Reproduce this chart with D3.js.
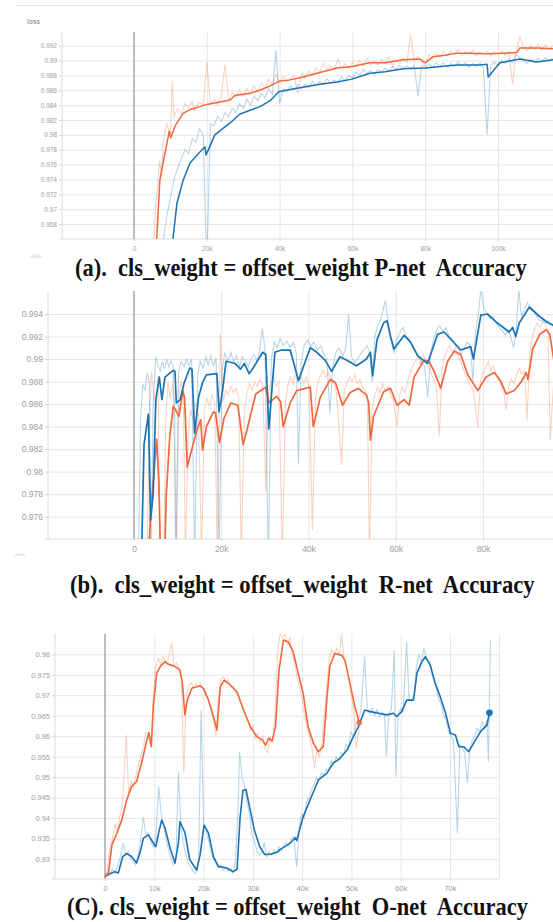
<!DOCTYPE html>
<html>
<head>
<meta charset="utf-8">
<script src="https://cdn.jsdelivr.net/npm/d3@7"></script>
<style>
  body { margin: 0; background: #fff; }
  svg { display: block; font-family: Roboto, "Noto Sans", sans-serif; }
  .grid line { stroke: #e7e7e7; }
  .grid path { display: none; }
  .axis path { display: none; }
  .axis line { stroke: #d4d4d4; }
  .axis text { fill: #9d9d9d; }
  .caption { font-family: "Liberation Serif", "Times New Roman", serif; font-weight: bold; fill: #111; white-space: pre; }
</style>
</head>
<body>
<div id="chart"></div>
<script>
// steps are in thousands, values are accuracy

// (a) P-net
var pnetXTicks = [0, 20, 40, 60, 80, 100];
var pnetYTicks = [0.968, 0.97, 0.972, 0.974, 0.976, 0.978, 0.98, 0.982, 0.984, 0.986, 0.988, 0.99, 0.992];
var pnetOrangeRaw = [[5,0.962],[6,0.9705],[7,0.9765],[7.6,0.9745],[8,0.979],[9,0.9815],[10,0.98],[10.5,0.9872],[11,0.9825],[12,0.9835],[13,0.9828],[14,0.9842],[15,0.9836],[16,0.9845],[16.6,0.9832],[17,0.9838],[18,0.9844],[19,0.984],[20,0.9898],[21,0.9842],[22,0.9848],[23,0.984],[24,0.9852],[25,0.9895],[26,0.9846],[27,0.9857],[28,0.985],[29,0.986],[30,0.9852],[31,0.9862],[32,0.9855],[33,0.9866],[34,0.9858],[35,0.987],[36,0.9862],[37,0.9875],[38,0.9868],[39,0.9882],[40,0.987],[41,0.9878],[42,0.9872],[43,0.9876],[44,0.988],[45,0.9855],[46,0.9882],[47,0.9876],[48,0.9886],[49,0.988],[50,0.989],[51,0.9884],[52,0.9896],[53,0.9887],[54,0.9893],[55,0.9888],[56,0.9902],[57,0.989],[58,0.9896],[59,0.9889],[60,0.9898],[61,0.9891],[62,0.99],[63,0.9893],[64,0.9903],[65,0.9894],[66,0.99],[67,0.9893],[68,0.9901],[69,0.9896],[70,0.9905],[71,0.9893],[72,0.99],[73,0.9896],[74,0.9904],[75,0.9898],[76,0.9935],[77,0.9899],[78,0.9906],[79,0.9899],[80,0.9892],[81,0.9908],[82,0.9903],[83,0.991],[84,0.9904],[85,0.9912],[86,0.9906],[87,0.9913],[88,0.9908],[89,0.9915],[90,0.9907],[91,0.9912],[92,0.9909],[93,0.9914],[94,0.9907],[95,0.9912],[96,0.9908],[97,0.9913],[98,0.9906],[99,0.9912],[100,0.9909],[101,0.9913],[102,0.9907],[103,0.9912],[104,0.9868],[105,0.9913],[106,0.9932],[107,0.9918],[108,0.9913],[109,0.992],[110,0.9915],[111,0.9922],[112,0.9914],[113,0.9921],[114,0.9915],[115,0.992]];
var pnetBlueRaw = [[8,0.9655],[9,0.969],[10,0.9715],[11,0.974],[12,0.9755],[13,0.9768],[14,0.978],[15,0.9775],[16,0.9795],[17,0.979],[18,0.9808],[19,0.98],[20,0.962],[21,0.9815],[22,0.9812],[23,0.9825],[24,0.9818],[25,0.983],[26,0.9824],[27,0.9836],[28,0.983],[29,0.9842],[30,0.9836],[31,0.9848],[32,0.984],[33,0.9852],[34,0.9846],[35,0.9856],[36,0.985],[37,0.9862],[38,0.9855],[39,0.9914],[40,0.9842],[41,0.9862],[42,0.9858],[43,0.9866],[44,0.986],[45,0.9868],[46,0.9862],[47,0.9868],[48,0.9864],[49,0.9872],[50,0.9866],[51,0.9872],[52,0.9868],[53,0.9876],[54,0.987],[55,0.9874],[56,0.987],[57,0.9878],[58,0.9872],[59,0.988],[60,0.9876],[61,0.9884],[62,0.988],[63,0.9888],[64,0.9883],[65,0.9887],[66,0.9882],[67,0.9888],[68,0.9884],[69,0.989],[70,0.9886],[71,0.9892],[72,0.9888],[73,0.9894],[74,0.9889],[75,0.9893],[76,0.9889],[77,0.9894],[78,0.9852],[79,0.9893],[80,0.9889],[81,0.9896],[82,0.9891],[83,0.9897],[84,0.9892],[85,0.9897],[86,0.9891],[87,0.9896],[88,0.9892],[89,0.9898],[90,0.9893],[91,0.9897],[92,0.9891],[93,0.9896],[94,0.9892],[95,0.9897],[96,0.989],[97,0.98],[98,0.9893],[99,0.9898],[100,0.9894],[101,0.99],[102,0.9896],[103,0.9902],[104,0.9897],[105,0.9908],[106,0.9904],[107,0.99],[108,0.9896],[109,0.9902],[110,0.9897],[111,0.9903],[112,0.9898],[113,0.9904],[114,0.9899],[115,0.9903]];
var pnetOrangeSmooth = [[5.8,0.962],[7.1,0.9739],[8.5,0.9775],[9.7,0.9805],[10.1,0.9796],[11.3,0.9812],[13.5,0.9829],[15.4,0.9834],[18.1,0.9838],[20,0.9841],[22.2,0.9843],[26.4,0.9847],[27.7,0.9853],[29.1,0.9854],[31.9,0.9856],[34.6,0.986],[37.4,0.9866],[39.8,0.9872],[42.9,0.9874],[46.4,0.9878],[51.1,0.9884],[55.8,0.989],[59.9,0.9892],[64.8,0.9897],[69,0.9897],[73.9,0.9901],[78.6,0.9902],[80,0.9897],[82.1,0.9905],[85.4,0.9907],[88.7,0.991],[92.3,0.991],[97,0.9909],[101.9,0.991],[105.2,0.9911],[106,0.9917],[110.7,0.9917],[115.1,0.9916]];
var pnetBlueSmooth = [[10.7,0.966],[11.8,0.9708],[13.5,0.9739],[15.4,0.9762],[18.1,0.9777],[19.5,0.9784],[19.8,0.9773],[22.2,0.98],[26.4,0.9816],[29.1,0.9828],[34.6,0.9838],[37.4,0.9846],[39.8,0.9858],[42.9,0.9861],[46.4,0.9864],[51.1,0.9868],[55.8,0.9871],[59.9,0.9875],[64.8,0.9883],[69,0.9885],[73.9,0.9889],[80,0.989],[88.7,0.9894],[95,0.9894],[97,0.9895],[97.3,0.9878],[100.5,0.9897],[106,0.9902],[110.7,0.9898],[115.1,0.9901]];

// (b) R-net
var rnetXTicks = [0, 20, 40, 60, 80];
var rnetYTicks = [0.976, 0.978, 0.98, 0.982, 0.984, 0.986, 0.988, 0.99, 0.992, 0.994];
var rnetBlueRaw = [[1,0.972],[1.5,0.9845],[2,0.9878],[2.5,0.9872],[3,0.9888],[3.5,0.988],[3.9,0.972],[4.4,0.986],[5,0.9902],[5.5,0.9895],[6,0.9889],[6.5,0.9898],[7,0.9891],[7.5,0.99],[8,0.9893],[8.5,0.9899],[9,0.9893],[9.6,0.972],[10.2,0.9888],[10.8,0.9898],[11.5,0.9893],[12,0.99],[12.6,0.9894],[13.2,0.99],[13.9,0.972],[14.6,0.9886],[15.2,0.9898],[15.8,0.9892],[16.5,0.9902],[17,0.9895],[17.6,0.9903],[18.2,0.9894],[18.8,0.9901],[19.5,0.972],[20.2,0.989],[20.8,0.9905],[21.5,0.9898],[22.2,0.9906],[22.8,0.9897],[23.5,0.9903],[24.2,0.9893],[24.8,0.9902],[25.5,0.9898],[26.2,0.9893],[26.8,0.99],[27.5,0.9904],[28.2,0.9898],[28.8,0.9908],[29.4,0.9927],[30,0.991],[30.8,0.972],[31.5,0.99],[32.2,0.9915],[32.8,0.991],[33.5,0.9918],[34.2,0.9912],[35,0.9916],[35.8,0.991],[36.5,0.9915],[37.2,0.9905],[37.7,0.9807],[38.3,0.9895],[39,0.9912],[39.8,0.9917],[40.5,0.9911],[41.2,0.9915],[42,0.9908],[42.8,0.9912],[43.5,0.9904],[44.2,0.99],[44.9,0.9852],[45.6,0.9895],[46.3,0.9906],[47,0.991],[47.8,0.9903],[48.5,0.9908],[49.2,0.994],[49.9,0.9901],[50.6,0.9897],[51.3,0.99],[52,0.9905],[52.7,0.9908],[53.4,0.9912],[54,0.9906],[54.6,0.988],[55.2,0.992],[55.9,0.993],[56.6,0.9935],[57.6,0.9952],[58.3,0.9932],[59,0.9915],[59.6,0.9905],[60.3,0.9918],[61,0.9924],[61.7,0.9928],[62.4,0.992],[63.1,0.9918],[63.8,0.991],[64.5,0.9908],[65.2,0.9902],[65.9,0.9897],[66.6,0.9893],[67.3,0.9866],[68,0.9905],[68.7,0.9918],[69.4,0.9926],[70.1,0.993],[70.8,0.9924],[71.5,0.9928],[72.2,0.992],[72.9,0.9918],[73.6,0.9912],[74.3,0.9909],[75,0.9904],[75.7,0.991],[76.4,0.9915],[77.1,0.9912],[77.7,0.988],[78.3,0.9925],[79,0.9942],[79.5,0.9962],[80.2,0.9945],[80.9,0.994],[81.6,0.9936],[82.3,0.9938],[83,0.9932],[83.7,0.9928],[84.4,0.9925],[85.1,0.9921],[85.8,0.9926],[86.5,0.9918],[87,0.991],[87.6,0.9925],[88.2,0.9962],[88.8,0.9938],[89.5,0.9945],[90.2,0.995],[90.9,0.9946],[91.6,0.9944],[92.3,0.9938],[93,0.9934],[93.7,0.9935],[94.4,0.9932],[95.1,0.9934],[95.8,0.993],[96.3,0.9928]];
var rnetOrangeRaw = [[3,0.972],[3.5,0.984],[4,0.9888],[4.5,0.987],[5,0.986],[5.5,0.9885],[6,0.972],[6.8,0.972],[7.3,0.985],[7.8,0.988],[8.3,0.9865],[8.8,0.9878],[9.3,0.986],[9.7,0.972],[10.3,0.9868],[10.8,0.988],[11.3,0.987],[11.8,0.972],[12.4,0.9835],[13,0.9855],[13.6,0.9845],[14.2,0.9862],[14.8,0.985],[15.5,0.972],[16.1,0.9855],[16.7,0.9865],[17.3,0.9858],[17.9,0.9868],[18.5,0.9862],[19.1,0.972],[19.8,0.9923],[20.4,0.9862],[21,0.9872],[21.6,0.9868],[22.2,0.9876],[22.8,0.987],[23.4,0.9874],[24,0.9866],[24.6,0.972],[25.3,0.9855],[25.9,0.987],[26.5,0.9878],[27.1,0.9872],[27.7,0.988],[28.3,0.9876],[28.9,0.9882],[29.5,0.9878],[30.2,0.9782],[30.8,0.987],[31.4,0.9878],[32,0.9884],[32.6,0.9876],[33.2,0.988],[34,0.972],[34.7,0.986],[35.3,0.9878],[35.9,0.9884],[36.5,0.9878],[37.1,0.9888],[37.7,0.988],[38.3,0.9885],[38.9,0.9878],[39.5,0.9884],[40.1,0.9876],[40.9,0.9748],[41.6,0.9865],[42.2,0.988],[42.8,0.9886],[43.4,0.989],[44,0.9884],[44.6,0.9888],[45.2,0.988],[45.8,0.9878],[46.4,0.987],[47.6,0.9806],[48.2,0.9872],[48.8,0.9878],[49.4,0.9884],[50,0.988],[50.6,0.9886],[51.2,0.9878],[51.8,0.9882],[52.4,0.9875],[53,0.9872],[53.5,0.9865],[54,0.972],[54.6,0.9858],[55.2,0.9868],[55.8,0.9875],[56.4,0.987],[57,0.9878],[57.6,0.9872],[58.2,0.9876],[58.8,0.9868],[59.4,0.9864],[60.3,0.984],[60.9,0.9868],[61.5,0.9875],[62.1,0.987],[62.7,0.988],[63.3,0.9888],[63.9,0.9894],[64.5,0.9898],[65.1,0.9903],[65.7,0.9895],[66.3,0.9904],[66.9,0.9898],[67.5,0.9893],[68.1,0.9888],[68.7,0.9882],[69.3,0.9876],[70,0.9832],[70.6,0.989],[71.2,0.9902],[71.8,0.9908],[72.4,0.9912],[73,0.9906],[73.6,0.991],[74.2,0.9904],[74.8,0.9898],[75.4,0.9892],[76,0.9886],[76.6,0.988],[77.2,0.9876],[77.8,0.9872],[78.8,0.9839],[79.4,0.988],[80,0.9888],[80.6,0.9892],[81.2,0.9898],[81.8,0.989],[82.4,0.9894],[83,0.9886],[83.6,0.9882],[84.2,0.9876],[84.8,0.987],[85.3,0.9855],[85.9,0.9876],[86.5,0.9882],[87.1,0.9878],[87.7,0.9886],[88.3,0.9892],[88.9,0.9886],[89.5,0.989],[90.1,0.9846],[90.7,0.9905],[91.3,0.992],[91.9,0.9928],[92.5,0.9932],[93.1,0.9928],[93.7,0.9934],[94.3,0.993],[94.9,0.9926],[95.4,0.9828],[96.2,0.988]];
var rnetBlueSmooth = [[1.7,0.972],[2.3,0.9824],[3.3,0.9851],[3.8,0.9757],[4.4,0.978],[5,0.9864],[5.8,0.9884],[6.4,0.9864],[7.1,0.9884],[9,0.989],[9.4,0.9889],[9.7,0.9861],[10.6,0.9864],[11.5,0.9879],[12.8,0.9892],[13.3,0.9891],[13.9,0.9834],[14.8,0.9866],[15.7,0.9879],[16.6,0.9886],[19,0.9887],[19.5,0.9853],[20.3,0.9872],[21.1,0.9898],[23.2,0.9896],[24.4,0.9891],[25.3,0.9896],[26.4,0.9887],[27.3,0.9892],[29.5,0.9906],[30.2,0.9904],[30.9,0.9838],[31.6,0.9872],[32.3,0.9906],[33.8,0.9908],[35.8,0.9908],[37.7,0.9881],[40.4,0.991],[41.9,0.9906],[43.8,0.9899],[45.3,0.9889],[47.2,0.9902],[48.8,0.9899],[51,0.9894],[53.3,0.99],[54.2,0.9906],[54.7,0.9885],[55.7,0.9917],[57.2,0.9932],[58,0.9934],[58.8,0.992],[59.6,0.9909],[61.9,0.9921],[63.4,0.9915],[65,0.9903],[67.3,0.9896],[69.6,0.9922],[71.1,0.9924],[73,0.9916],[74.9,0.9908],[77.2,0.9911],[77.8,0.99],[79.5,0.9939],[81,0.994],[83.3,0.9932],[86,0.9924],[86.8,0.9928],[87.5,0.992],[88.3,0.9932],[90.6,0.9946],[92.9,0.9938],[95,0.9932],[96.2,0.993]];
var rnetOrangeSmooth = [[3.3,0.972],[3.8,0.9762],[4.6,0.98],[5.2,0.9829],[5.7,0.979],[6.1,0.972],[7,0.972],[7.4,0.978],[8.2,0.9831],[9,0.9858],[9.5,0.9855],[10.3,0.9849],[11.2,0.9872],[11.6,0.9865],[12.2,0.9804],[13.2,0.9819],[14.5,0.9838],[15.3,0.9846],[15.7,0.9819],[16.6,0.984],[18.2,0.9853],[18.7,0.9852],[19.6,0.9826],[20.6,0.9847],[22.2,0.9861],[23.8,0.9859],[25,0.9824],[25.9,0.9837],[27.9,0.9869],[30.2,0.9875],[31,0.9861],[32.7,0.9867],[33.6,0.9862],[34.2,0.984],[35.8,0.9861],[37.3,0.9872],[40.4,0.9875],[41.1,0.984],[42.7,0.9866],[45,0.9882],[46.2,0.9879],[47.8,0.9859],[49.5,0.987],[51.4,0.9874],[53.3,0.9868],[53.8,0.9861],[54.2,0.9828],[54.9,0.9849],[57.2,0.9871],[58.8,0.9874],[60.3,0.9859],[61.9,0.9864],[63.1,0.9859],[64.2,0.9884],[66.5,0.9899],[67.6,0.9898],[68.8,0.9889],[70.3,0.9874],[71.9,0.9898],[73.4,0.9907],[74.9,0.9904],[76.5,0.9886],[78.8,0.9872],[80.7,0.9884],[82.6,0.9888],[84.1,0.988],[85.3,0.9869],[87.2,0.9872],[88.8,0.988],[89.9,0.9888],[90.3,0.9882],[91.4,0.9909],[93,0.9922],[94.5,0.9926],[95.3,0.9922],[96.2,0.99]];

// (C) O-net
var onetXTicks = [0, 10, 20, 30, 40, 50, 60, 70];
var onetYTicks = [0.93, 0.935, 0.94, 0.945, 0.95, 0.955, 0.96, 0.965, 0.97, 0.975, 0.98];
var onetOrangeRaw = [[0,0.9255],[0.5,0.9275],[1,0.933],[1.5,0.935],[2,0.9385],[2.5,0.9365],[3,0.9405],[3.5,0.943],[4.3,0.9603],[4.8,0.946],[5.3,0.949],[5.8,0.9475],[6.3,0.9505],[6.8,0.953],[7.3,0.9555],[7.8,0.9575],[8.3,0.961],[8.8,0.96],[9.3,0.957],[9.8,0.97],[10.3,0.977],[10.8,0.979],[11.3,0.9775],[11.8,0.9795],[12.3,0.978],[12.8,0.9788],[13.5,0.9828],[14,0.9772],[14.5,0.978],[15,0.9765],[15.5,0.974],[16,0.951],[16.5,0.97],[17,0.9722],[17.5,0.973],[18,0.9718],[18.5,0.9728],[19,0.972],[19.5,0.973],[20,0.9712],[20.5,0.97],[21,0.969],[21.5,0.9665],[22,0.964],[22.5,0.96],[23,0.969],[23.5,0.974],[24,0.9745],[24.5,0.973],[25,0.9738],[25.5,0.972],[26,0.9722],[26.5,0.9705],[27,0.97],[27.5,0.968],[28,0.967],[28.5,0.965],[29,0.964],[29.5,0.9615],[30,0.9625],[30.5,0.9595],[31,0.9608],[31.5,0.9585],[32,0.96],[32.5,0.957],[33,0.956],[33.5,0.96],[34,0.9585],[34.5,0.965],[35,0.98],[35.5,0.985],[36,0.984],[36.5,0.985],[37,0.9825],[37.5,0.984],[38,0.98],[38.5,0.978],[39,0.974],[39.5,0.972],[40,0.969],[40.5,0.965],[41,0.962],[41.5,0.96],[42,0.957],[42.5,0.952],[43,0.9565],[43.5,0.955],[44,0.9585],[44.5,0.965],[45,0.972],[45.5,0.979],[46,0.981],[46.5,0.98],[47,0.9815],[47.5,0.9795],[48,0.985],[48.5,0.979],[49,0.9765],[49.5,0.974],[50,0.97],[50.5,0.966],[51,0.957],[51.6,0.9625]];
var onetBlueRaw = [[0,0.9255],[0.5,0.9268],[1,0.9262],[1.5,0.9275],[2,0.9265],[2.5,0.928],[3,0.93],[3.7,0.9339],[4.2,0.931],[4.7,0.9318],[5.2,0.93],[5.7,0.9295],[6.2,0.9285],[6.7,0.931],[7.2,0.9345],[7.8,0.9403],[8.3,0.9355],[8.8,0.9365],[9.3,0.934],[9.8,0.933],[10.3,0.935],[10.9,0.9477],[11.4,0.941],[11.9,0.938],[12.4,0.935],[12.9,0.932],[13.4,0.93],[13.9,0.9285],[14.4,0.93],[14.9,0.9513],[15.4,0.938],[15.9,0.934],[16.4,0.931],[16.9,0.929],[17.4,0.928],[17.9,0.927],[18.4,0.9265],[19,0.93],[19.5,0.9664],[20,0.939],[20.5,0.937],[21,0.9345],[21.5,0.932],[22,0.93],[22.5,0.929],[23,0.9278],[23.5,0.9285],[24,0.9272],[24.5,0.928],[25,0.927],[25.5,0.9278],[26,0.9265],[26.5,0.93],[27,0.942],[27.3,0.9562],[27.8,0.95],[28.3,0.948],[28.8,0.944],[29.3,0.941],[29.8,0.936],[30.3,0.9345],[30.8,0.932],[31.3,0.931],[31.8,0.9315],[32.3,0.934],[32.8,0.9305],[33.3,0.9318],[33.8,0.931],[34.3,0.9322],[34.8,0.9315],[35.3,0.933],[35.8,0.932],[36.3,0.9335],[36.8,0.934],[37.3,0.933],[37.8,0.935],[38.3,0.9355],[38.9,0.928],[39.4,0.938],[39.9,0.941],[40.4,0.94],[40.9,0.944],[41.4,0.945],[41.9,0.947],[42.4,0.948],[42.9,0.95],[43.4,0.949],[43.9,0.951],[44.4,0.9505],[44.9,0.952],[45.4,0.9515],[45.9,0.954],[46.4,0.953],[46.9,0.955],[47.4,0.954],[47.9,0.956],[48.4,0.9555],[48.9,0.958],[49.4,0.957],[49.9,0.961],[50.4,0.96],[50.9,0.963],[51.4,0.964],[51.9,0.966],[52.7,0.9794],[53.2,0.967],[53.7,0.9655],[54.2,0.9668],[54.7,0.965],[55.2,0.9665],[55.7,0.9648],[56.2,0.966],[56.7,0.965],[57.1,0.955],[57.6,0.9655],[58.1,0.9665],[58.7,0.981],[59,0.9501],[59.5,0.965],[60,0.9668],[60.5,0.966],[61.2,0.9831],[61.7,0.969],[62.2,0.9685],[62.7,0.97],[63.2,0.977],[63.7,0.98],[64.2,0.978],[64.7,0.9815],[65.2,0.979],[65.7,0.978],[66.2,0.976],[66.7,0.9735],[67.2,0.972],[67.7,0.969],[68.2,0.968],[68.7,0.965],[69.2,0.964],[69.7,0.961],[70.2,0.96],[70.7,0.959],[71.5,0.9363],[72,0.958],[72.5,0.957],[73,0.956],[73.5,0.9485],[74,0.9565],[74.5,0.959],[75,0.96],[75.5,0.962],[76,0.961],[76.5,0.9635],[77,0.962],[77.5,0.964],[77.8,0.9538],[78.2,0.9835]];
var onetOrangeSmooth = [[0,0.9257],[0.7,0.9266],[1.4,0.9334],[2.4,0.9363],[3.4,0.9395],[4.4,0.9444],[5.4,0.9477],[6.4,0.9489],[7.4,0.9534],[8.5,0.9591],[8.9,0.9609],[9.4,0.9575],[9.8,0.9672],[10.5,0.9754],[11.2,0.977],[12.2,0.9782],[12.8,0.9776],[14.2,0.977],[15.2,0.9762],[15.7,0.973],[16.2,0.9652],[16.7,0.9688],[17.6,0.9717],[19.3,0.9723],[20,0.9716],[21,0.9688],[22,0.9648],[22.7,0.9615],[23.4,0.9721],[24.2,0.9737],[25.4,0.9725],[26.8,0.9708],[28.1,0.9664],[29.5,0.9623],[30.8,0.9599],[31.9,0.9591],[32.6,0.9578],[33.2,0.9595],[33.9,0.9588],[34.6,0.9623],[35.3,0.976],[36.2,0.9835],[37.2,0.983],[38.2,0.9806],[39.2,0.9754],[40.2,0.9705],[41.2,0.9623],[42.3,0.9583],[43.3,0.9562],[44.3,0.9575],[45,0.9688],[45.6,0.977],[46.6,0.9802],[48,0.9798],[48.7,0.9785],[49.7,0.9729],[50.7,0.9672],[51.6,0.9633]];
var onetBlueSmooth = [[0,0.9257],[1,0.9264],[2,0.9269],[2.7,0.9266],[3.6,0.9306],[4.4,0.9313],[5.4,0.9306],[6.4,0.929],[7.1,0.9315],[7.8,0.9351],[8.8,0.9359],[9.8,0.9339],[10.3,0.933],[11,0.937],[11.5,0.9395],[12.2,0.9375],[13.2,0.9327],[14.2,0.929],[14.9,0.934],[15.2,0.9391],[16.2,0.9365],[17.2,0.9298],[18.6,0.9273],[19.3,0.931],[20.1,0.9383],[21,0.9363],[22,0.9306],[23,0.9282],[24.7,0.9278],[26,0.9269],[26.8,0.9275],[27.4,0.94],[28,0.9468],[28.6,0.947],[29.3,0.9429],[30.3,0.9371],[31.4,0.933],[32.4,0.9311],[33.8,0.9312],[35.1,0.9318],[35.5,0.9323],[37.5,0.9338],[38.6,0.9352],[38.9,0.9345],[40.2,0.9403],[41.6,0.9444],[43.3,0.9493],[45,0.9509],[46.3,0.9534],[47.7,0.9546],[49.1,0.9566],[50.4,0.9599],[51.4,0.9623],[52.7,0.9664],[53.8,0.966],[55.5,0.9656],[57.2,0.9652],[58.5,0.9656],[59.2,0.9648],[60.2,0.966],[61.2,0.9688],[62.6,0.9688],[63.3,0.9754],[64.3,0.9782],[65,0.9794],[66,0.9774],[67,0.9729],[68,0.9697],[69.1,0.9656],[70.1,0.9607],[71.1,0.9603],[71.8,0.9574],[72.8,0.9574],[73.8,0.9562],[74.8,0.9583],[76.2,0.9611],[77.5,0.9627],[78,0.9657]];

var captions = [
  "(a).  cls_weight = offset_weight P-net  Accuracy",
  "(b).  cls_weight = offset_weight  R-net  Accuracy",
  "(C). cls_weight = offset_weight  O-net  Accuracy"
];

var orange = "#ef693d";
var blue = "#1c73b4";

var width = 553;
var height = 922;

var svg = d3.select("#chart")
  .append("svg")
  .attr("width", width)
  .attr("height", height);

// layout of the three screenshots
var panels = [
  {
    id: "a", xRef: 100, zeroPx: 134, xRefPx: 498, left: 62, right: 571, top: 32, bottom: 239,
    yLo: 0.968, yLoPx: 224, yHi: 0.992, yHiPx: 45.7, fontSize: 6.5, lineWidth: 1.5,
    xTicks: pnetXTicks, yTicks: pnetYTicks,
    series: [[pnetOrangeRaw, pnetOrangeSmooth, orange], [pnetBlueRaw, pnetBlueSmooth, blue]],
    caption: { text: captions[0], x: 75, y: 276, len: 452 },
    loss: true, blob: [36, 263, 258]
  },
  {
    id: "b", xRef: 80, zeroPx: 134, xRefPx: 483, left: 48, right: 571, top: 291, bottom: 539,
    yLo: 0.976, yLoPx: 516.7, yHi: 0.994, yHiPx: 314, fontSize: 8.5, lineWidth: 1.7,
    xTicks: rnetXTicks, yTicks: rnetYTicks,
    series: [[rnetOrangeRaw, rnetOrangeSmooth, orange], [rnetBlueRaw, rnetBlueSmooth, blue]],
    caption: { text: captions[1], x: 70, y: 593, len: 465 },
    loss: false, blob: [20, 562, 556]
  },
  {
    id: "c", xRef: 70, zeroPx: 105, xRefPx: 450, left: 55, right: 499, top: 634, bottom: 879,
    yLo: 0.93, yLoPx: 859, yHi: 0.98, yHiPx: 654.3, fontSize: 7.5, lineWidth: 1.6,
    xTicks: onetXTicks, yTicks: onetYTicks,
    series: [[onetBlueRaw, onetBlueSmooth, blue], [onetOrangeRaw, onetOrangeSmooth, orange]],
    caption: { text: captions[2], x: 67, y: 915, len: 461 },
    loss: false, blob: null, endDots: true
  }
];

panels.forEach(drawPanel);

function drawPanel(p) {

  var x = d3.scaleLinear().domain([0, p.xRef]).range([p.zeroPx, p.xRefPx]);
  var y = d3.scaleLinear().domain([p.yLo, p.yHi]).range([p.yLoPx, p.yHiPx]);
  var right = Math.min(p.right, width);

  var g = svg.append("g");

  if (p.loss) {
    g.append("line")
      .attr("x1", 17).attr("x2", width).attr("y1", 5.5).attr("y2", 5.5)
      .attr("stroke", "#e6e6e6");
    g.append("text")
      .attr("x", 27).attr("y", 24)
      .style("font-size", "7px").style("fill", "#777")
      .text("loss");
  }

  // grid
  g.append("g")
    .attr("class", "grid")
    .attr("transform", `translate(${p.left},0)`)
    .call(d3.axisLeft(y).tickValues(p.yTicks).tickSize(-(right - p.left)).tickFormat(""));

  var vTicks = p.xTicks.filter(d => d !== 0);
  if (p.right < width) vTicks.push(x.invert(p.right));
  g.append("g")
    .attr("class", "grid")
    .attr("transform", `translate(0,${p.bottom})`)
    .call(d3.axisBottom(x).tickValues(vTicks).tickSize(-(p.bottom - p.top)).tickFormat(""));

  // axes
  var yAxis = g.append("g")
    .attr("class", "axis")
    .attr("transform", `translate(${p.left},0)`)
    .call(d3.axisLeft(y).tickValues(p.yTicks).tickSize(3).tickPadding(2).tickFormat(d => String(d)));
  yAxis.selectAll("text").style("font-size", p.fontSize + "px");

  var xAxis = g.append("g")
    .attr("class", "axis")
    .attr("transform", `translate(0,${p.bottom})`)
    .call(d3.axisBottom(x).tickValues(p.xTicks).tickSize(2).tickPadding(5).tickFormat(d => d === 0 ? "0" : d + "k"));
  xAxis.selectAll("text").style("font-size", p.fontSize + "px");

  g.append("line")
    .attr("x1", p.left).attr("x2", p.left).attr("y1", p.top).attr("y2", p.bottom)
    .attr("stroke", "#dcdcdc");
  g.append("line")
    .attr("x1", p.left - 3).attr("x2", right).attr("y1", p.bottom).attr("y2", p.bottom)
    .attr("stroke", "#dcdcdc");

  // step 0 line
  g.append("line")
    .attr("x1", x(0)).attr("x2", x(0)).attr("y1", p.top).attr("y2", p.bottom)
    .attr("stroke", "#9b9b9b").attr("stroke-width", 1.3);

  // lines
  svg.append("clipPath").attr("id", "clip-" + p.id)
    .append("rect")
    .attr("x", p.left).attr("y", p.top)
    .attr("width", right - p.left).attr("height", p.bottom - p.top);

  var line = d3.line().x(d => x(d[0])).y(d => y(d[1]));

  var plot = g.append("g").attr("clip-path", `url(#clip-${p.id})`);

  p.series.forEach(function (s) {
    plot.append("path")
      .datum(s[0])
      .attr("d", line)
      .attr("fill", "none")
      .attr("stroke", s[2])
      .attr("stroke-opacity", 0.3)
      .attr("stroke-width", 1.1);
  });
  p.series.forEach(function (s) {
    plot.append("path")
      .datum(s[1])
      .attr("d", line)
      .attr("fill", "none")
      .attr("stroke", s[2])
      .attr("stroke-width", p.lineWidth)
      .attr("stroke-linejoin", "round");
  });

  if (p.endDots) {
    p.series.forEach(function (s) {
      var last = s[1][s[1].length - 1];
      plot.append("circle")
        .attr("cx", x(last[0])).attr("cy", y(last[1]))
        .attr("r", s[2] === blue ? 3.3 : 2.8)
        .attr("fill", s[2])
        .attr("opacity", s[2] === blue ? 1 : 0.8);
    });
  }

  // bit of the toolbar button under the screenshot
  if (p.blob) {
    svg.append("clipPath").attr("id", "blob-" + p.id)
      .append("rect").attr("x", 0).attr("y", p.blob[1] - 20).attr("width", 80).attr("height", p.blob[2] - p.blob[1] + 20);
    g.append("circle")
      .attr("cx", p.blob[0]).attr("cy", p.blob[1]).attr("r", 9)
      .attr("fill", "#e9e9e9")
      .attr("clip-path", `url(#blob-${p.id})`);
  }

  // caption: tall bold serif squeezed to the width it has in the figure
  var cap = g.append("text")
    .attr("class", "caption")
    .attr("xml:space", "preserve")
    .attr("x", 0)
    .attr("y", 0)
    .style("font-size", "25px")
    .text(p.caption.text);
  var natural = cap.node().getComputedTextLength();
  cap.attr("transform", `translate(${p.caption.x},${p.caption.y}) scale(${p.caption.len / natural},1)`);
}
</script>
</body>
</html>
